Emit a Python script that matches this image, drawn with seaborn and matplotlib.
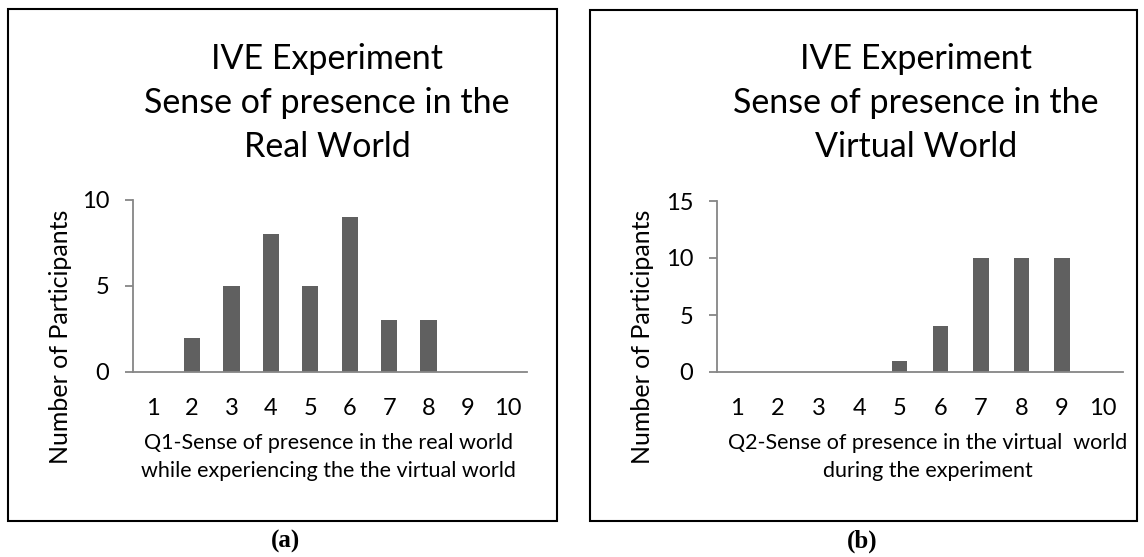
import matplotlib
matplotlib.use("Agg")
import matplotlib.pyplot as plt
import seaborn as sns
import pandas as pd
from matplotlib.patches import Rectangle

sns.set_theme(style="white")
plt.rcParams['font.family'] = ['Lato', 'DejaVu Sans']

categories = ["1", "2", "3", "4", "5", "6", "7", "8", "9", "10"]
q1_counts = [0, 2, 5, 8, 5, 9, 3, 3, 0, 0]
q2_counts = [0, 0, 0, 0, 1, 4, 10, 10, 10, 0]

titles = ["IVE Experiment\nSense of presence in the\nReal World",
          "IVE Experiment\nSense of presence in the\nVirtual World"]
xlabels = ["Q1-Sense of presence in the real world\nwhile experiencing the the virtual world",
           "Q2-Sense of presence in the virtual  world\nduring the experiment"]
ylabel = "Number of Participants"
panel_tags = ["(a)", "(b)"]
y_ticks = [[0, 5, 10], [0, 5, 10, 15]]

W, H = 1144, 557
fig = plt.figure(figsize=(W / 100, H / 100), dpi=100)
fig.patch.set_facecolor("white")

def fx(px):
    return px / W

def fy(py):
    return 1 - py / H

boxes = [(8, 9, 557, 521), (590, 10, 1137, 521)]
axes_px = [(133, 200, 527, 372), (717, 201, 1123, 372)]
bar_width = [0.41, 0.38]
title_cx = [327, 916]
ylabel_cx = [60, 643]
xlabel_cx = [328, 928]
tag_cx = [285, 862]

for i, counts in enumerate([q1_counts, q2_counts]):
    bx0, by0, bx1, by1 = boxes[i]
    fig.patches.append(Rectangle((fx(bx0), fy(by1)), fx(bx1 - bx0), (by1 - by0) / H,
                                 transform=fig.transFigure, fill=False,
                                 edgecolor="black", linewidth=1.5))
    x0, y0, x1, y1 = axes_px[i]
    ax = fig.add_axes([fx(x0), fy(y1), fx(x1 - x0), (y1 - y0) / H])
    df = pd.DataFrame({"score": categories, "count": counts})
    sns.barplot(data=df, x="score", y="count", color="#606060", width=bar_width[i],
                saturation=1, ax=ax, edgecolor="none")
    ax.set_xlim(-0.5, 9.5)
    ax.set_ylim(0, max(y_ticks[i]))
    ax.set_yticks(y_ticks[i])
    ax.set_xlabel("")
    ax.set_ylabel("")
    for s in ["top", "right"]:
        ax.spines[s].set_visible(False)
    for s in ["left", "bottom"]:
        ax.spines[s].set_color("#868686")
        ax.spines[s].set_linewidth(1.3)
    ax.tick_params(axis="y", left=True, length=6, width=1.3, color="#868686",
                   labelsize=17, pad=11, labelcolor="black")
    ax.tick_params(axis="x", bottom=False, length=0, labelsize=17, pad=19,
                   labelcolor="black")
    ax.set_facecolor("white")

    fig.text(fx(title_cx[i]), fy(103), titles[i], ha="center", va="center",
             fontsize=24.5, linespacing=1.48, color="black")
    fig.text(fx(ylabel_cx[i]), fy(337), ylabel, rotation=90, ha="center",
             va="center", fontsize=18, color="black")
    fig.text(fx(xlabel_cx[i]), fy(457), xlabels[i], ha="center", va="center",
             fontsize=15.5, linespacing=1.5, color="black")
    fig.text(fx(tag_cx[i]), fy(541), panel_tags[i], ha="center", va="center",
             fontsize=18, fontweight="bold", family="Liberation Serif",
             color="black")

fig.savefig("out.png", dpi=100, facecolor="white")
